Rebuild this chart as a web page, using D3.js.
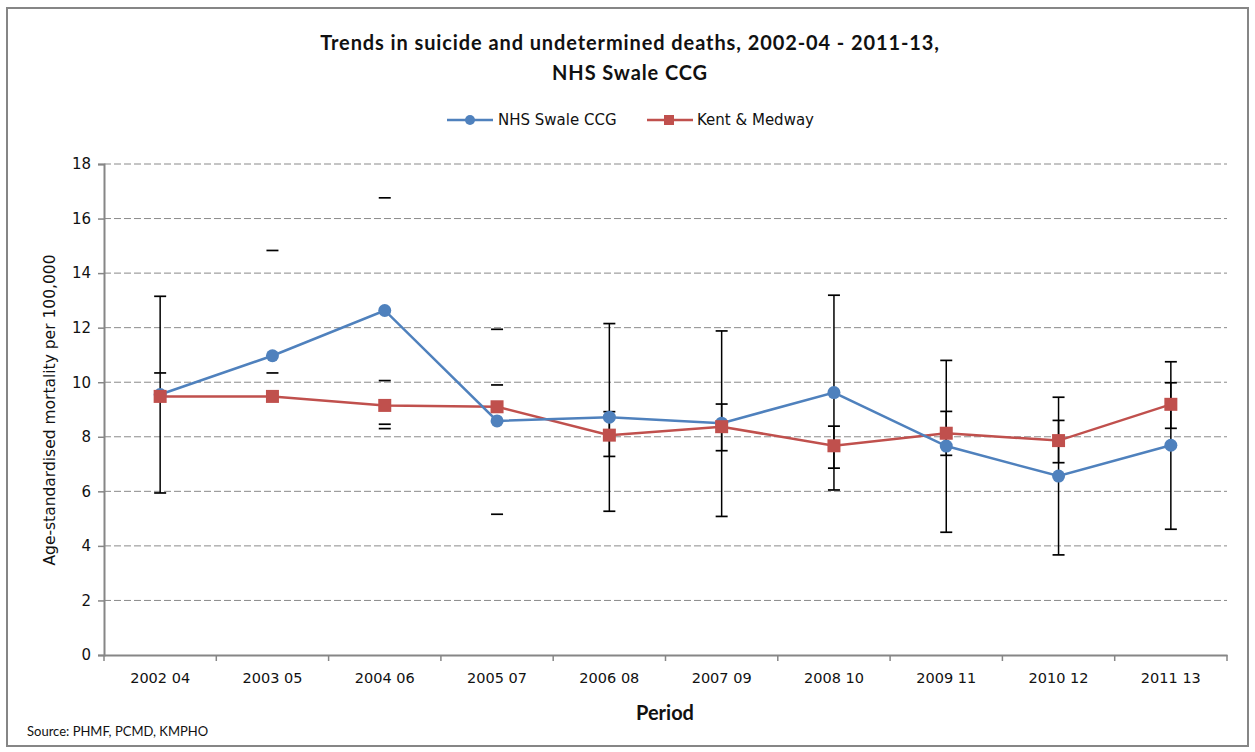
<!DOCTYPE html>
<html>
<head>
<meta charset="utf-8">
<script src="https://cdn.jsdelivr.net/npm/d3@7"></script>
<style>
    body { margin: 0; background: #fff; }
    text { font-family: Tahoma, "DejaVu Sans", sans-serif; fill: #111; }
    .title { font-family: Lato, Calibri, sans-serif; font-weight: bold; font-size: 20px; letter-spacing: 0.9px; }
    .axis-title { font-family: Lato, Calibri, sans-serif; font-weight: bold; font-size: 20px; }
    .legend-text { font-size: 15px; }
</style>
</head>
<body>
<div id="chart"></div>
<script>
// Suicide and undetermined deaths, age-standardised rate per 100,000

const periods = ["2002 04", "2003 05", "2004 06", "2005 07", "2006 08",
                 "2007 09", "2008 10", "2009 11", "2010 12", "2011 13"];

const swaleValues = [9.55, 10.97, 12.63, 8.58, 8.72, 8.50, 9.62, 7.66, 6.56, 7.69];
const swaleLower  = [5.94, null, 8.46, 5.16, 5.27, 5.08, 6.05, 4.50, 3.67, 4.61];
const swaleUpper  = [13.15, 14.83, 16.76, 11.94, 12.15, 11.88, 13.19, 10.80, 9.45, 10.75];

const kentValues = [9.48, 9.48, 9.15, 9.10, 8.06, 8.37, 7.67, 8.13, 7.86, 9.19];
const kentLower  = [null, null, 8.30, null, 7.28, 7.49, 6.85, 7.32, 7.05, 8.31];
const kentUpper  = [10.34, 10.34, 10.06, 9.90, 8.92, 9.20, 8.39, 8.93, 8.60, 9.98];

// whether the vertical error bar line shows for that period in the source
const stemShown = [true, false, false, false, true, true, true, true, true, true];

const yTicks = [0, 2, 4, 6, 8, 10, 12, 14, 16, 18];

const W = 1255, H = 752;
const margin = { left: 104, right: 28, top: 164, bottom: 97 };
const width = W - margin.left - margin.right;
const height = H - margin.top - margin.bottom;

const blue = "#4F81BD";
const red = "#C0504D";

const svg = d3.select("#chart").append("svg")
    .attr("width", W)
    .attr("height", H);

// Outer chart border
svg.append("rect")
    .attr("x", 7).attr("y", 8)
    .attr("width", 1241).attr("height", 738)
    .attr("fill", "none")
    .attr("stroke", "#868686")
    .attr("stroke-width", 2);

// Title
svg.append("text").attr("class", "title")
    .attr("x", 630).attr("y", 50)
    .attr("text-anchor", "middle")
    .text("Trends in suicide and undetermined deaths, 2002-04 - 2011-13,");
svg.append("text").attr("class", "title")
    .attr("x", 630).attr("y", 80)
    .attr("text-anchor", "middle")
    .text("NHS Swale CCG");

const chart = svg.append("g")
    .attr("transform", `translate(${margin.left}, ${margin.top})`);

const xScale = d3.scaleBand()
    .domain(periods)
    .range([0, width]);

const yScale = d3.scaleLinear()
    .domain([0, 18])
    .range([height, 0]);

const xc = d => xScale(d) + xScale.bandwidth() / 2;

// Gridlines
chart.selectAll(".grid")
    .data(yTicks.filter(t => t > 0))
    .join("line")
    .attr("x1", 0).attr("x2", width)
    .attr("y1", d => yScale(d)).attr("y2", d => yScale(d))
    .attr("stroke", "#8a8a8a")
    .attr("stroke-width", 1)
    .attr("stroke-dasharray", "7,3");

// Y axis
const yAxis = chart.append("g")
    .call(d3.axisLeft(yScale).tickValues(yTicks).tickSize(6).tickPadding(7));
yAxis.select(".domain").attr("stroke", "#868686").attr("stroke-width", 2);
yAxis.selectAll(".tick line").attr("stroke", "#868686").attr("stroke-width", 1.5);
yAxis.selectAll(".tick text")
    .style("font-family", "Tahoma, 'DejaVu Sans', sans-serif").style("font-size", "15px").attr("fill", "#111");

// X axis
const xAxis = chart.append("g")
    .attr("transform", `translate(0, ${height})`)
    .call(d3.axisBottom(xScale).tickSize(0).tickPadding(18));
xAxis.select(".domain").attr("stroke", "#868686").attr("stroke-width", 2);
xAxis.selectAll(".tick text")
    .style("font-family", "Tahoma, 'DejaVu Sans', sans-serif").style("font-size", "14.5px").attr("fill", "#111");

// category boundary ticks
chart.selectAll(".xtick")
    .data(d3.range(periods.length + 1))
    .join("line")
    .attr("x1", i => i * xScale.step()).attr("x2", i => i * xScale.step())
    .attr("y1", height).attr("y2", height + 6)
    .attr("stroke", "#868686").attr("stroke-width", 1.5);

// Axis titles
svg.append("text").attr("class", "axis-title")
    .attr("x", 665).attr("y", 720)
    .attr("text-anchor", "middle")
    .text("Period");

svg.append("text")
    .attr("transform", "rotate(-90)")
    .attr("x", -410).attr("y", 55)
    .attr("text-anchor", "middle")
    .style("font-size", "15.5px")
    .text("Age-standardised mortality per 100,000");

svg.append("text")
    .attr("x", 27).attr("y", 736)
    .style("font-family", "Lato, Calibri, sans-serif")
    .style("font-size", "13px")
    .text("Source: PHMF, PCMD, KMPHO");

// Error bars
function drawErrors(lower, upper) {
    const g = chart.append("g");
    periods.forEach((p, i) => {
        const x = xc(p);
        if (stemShown[i] && lower[i] != null && upper[i] != null) {
            g.append("line")
                .attr("x1", x).attr("x2", x)
                .attr("y1", yScale(upper[i])).attr("y2", yScale(lower[i]))
                .attr("stroke", "#000").attr("stroke-width", 1.5);
        }
        [lower[i], upper[i]].forEach(v => {
            if (v == null) return;
            g.append("line")
                .attr("x1", x - 6).attr("x2", x + 6)
                .attr("y1", yScale(v)).attr("y2", yScale(v))
                .attr("stroke", "#000").attr("stroke-width", 1.7);
        });
    });
}
drawErrors(swaleLower, swaleUpper);
drawErrors(kentLower, kentUpper);

const line = d3.line()
    .x((d, i) => xc(periods[i]))
    .y(d => yScale(d));

// Kent & Medway series
chart.append("path")
    .datum(kentValues)
    .attr("d", line)
    .attr("fill", "none")
    .attr("stroke", red)
    .attr("stroke-width", 2.5);

// NHS Swale CCG series
chart.append("path")
    .datum(swaleValues)
    .attr("d", line)
    .attr("fill", "none")
    .attr("stroke", blue)
    .attr("stroke-width", 2.5);

chart.selectAll(".swale-pt")
    .data(swaleValues)
    .join("circle")
    .attr("cx", (d, i) => xc(periods[i]))
    .attr("cy", d => yScale(d))
    .attr("r", 6.5)
    .attr("fill", blue);

chart.selectAll(".kent-pt")
    .data(kentValues)
    .join("rect")
    .attr("x", (d, i) => xc(periods[i]) - 6.5)
    .attr("y", d => yScale(d) - 6.5)
    .attr("width", 13).attr("height", 13)
    .attr("fill", red);

// Legend
const legend = svg.append("g");
legend.append("line").attr("x1", 447).attr("x2", 493).attr("y1", 120).attr("y2", 120)
    .attr("stroke", blue).attr("stroke-width", 2.5);
legend.append("circle").attr("cx", 470).attr("cy", 120).attr("r", 5).attr("fill", blue);
legend.append("text").attr("class", "legend-text").attr("x", 498).attr("y", 125).text("NHS Swale CCG");

legend.append("line").attr("x1", 647).attr("x2", 693).attr("y1", 120).attr("y2", 120)
    .attr("stroke", red).attr("stroke-width", 2.5);
legend.append("rect").attr("x", 664).attr("y", 115).attr("width", 10).attr("height", 10).attr("fill", red);
legend.append("text").attr("class", "legend-text").attr("x", 697).attr("y", 125).text("Kent & Medway");
</script>
</body>
</html>
